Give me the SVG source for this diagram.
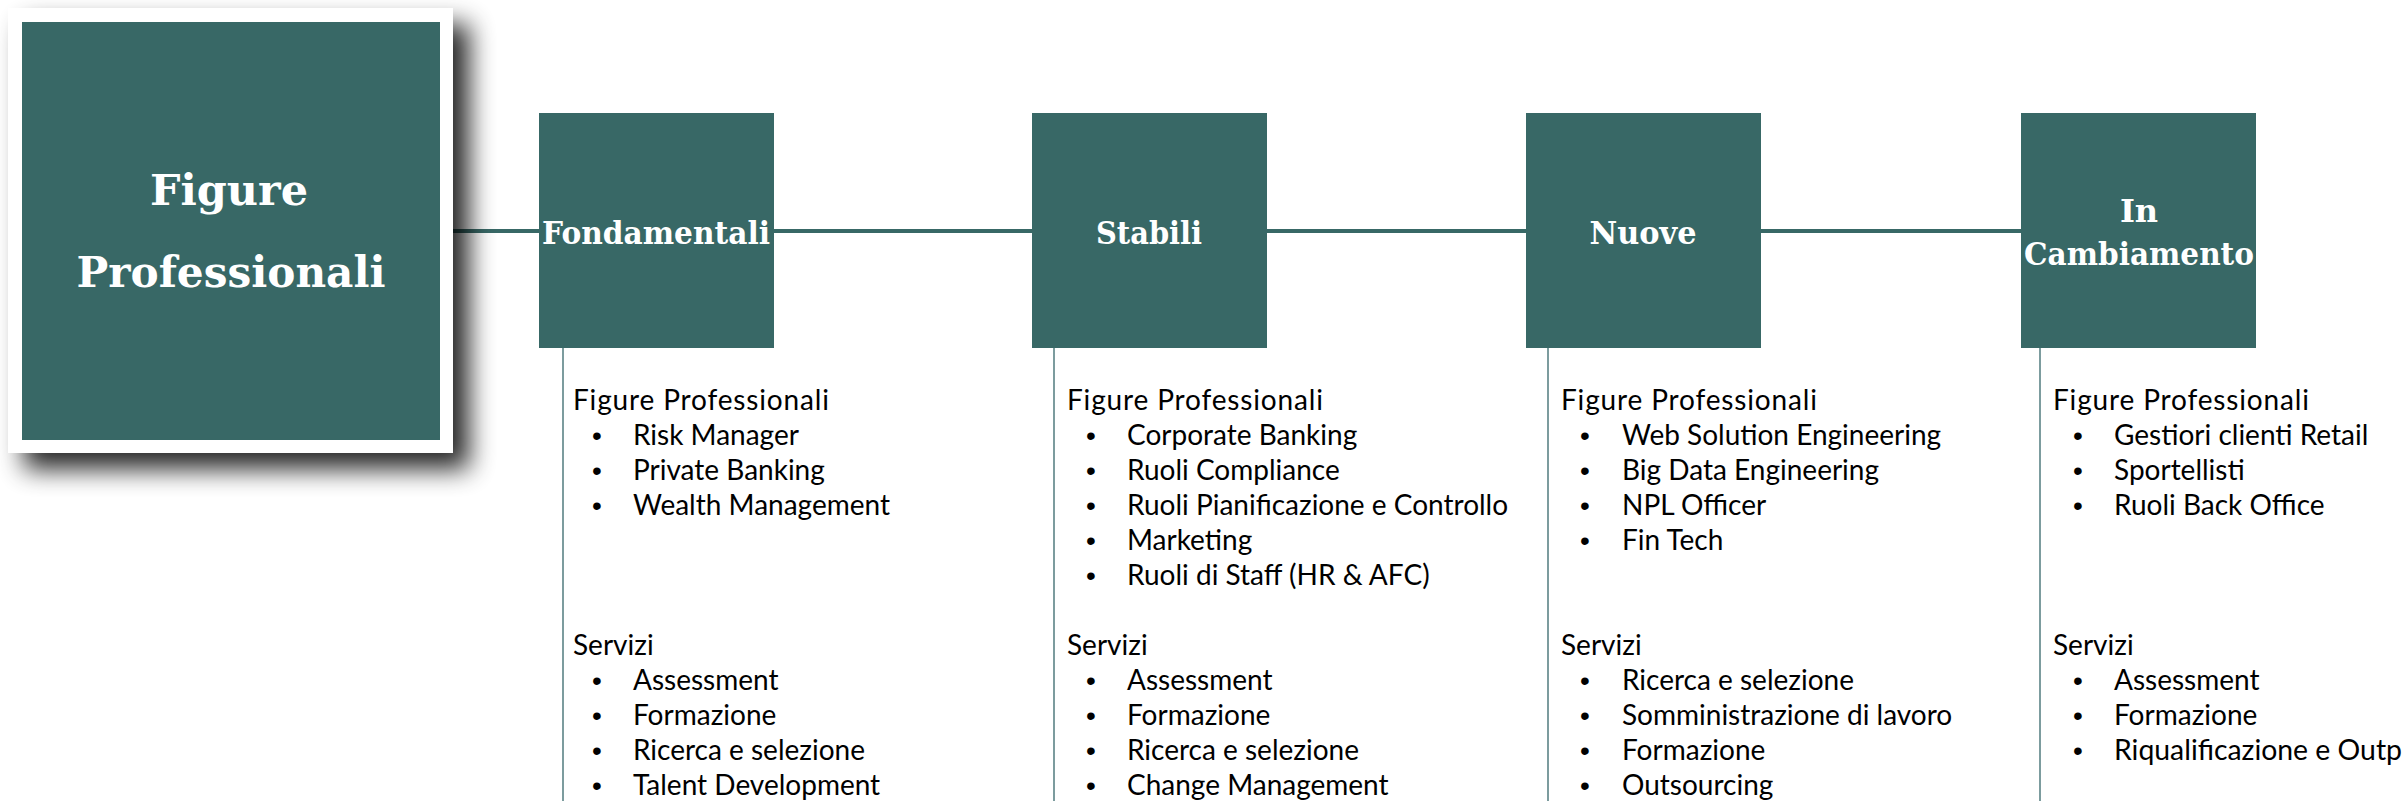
<svg xmlns="http://www.w3.org/2000/svg" width="2402" height="801" viewBox="0 0 2402 801">
<style>
.box{fill:#386866}
.lbl{font-family:"DejaVu Serif","Liberation Serif",serif;font-weight:bold;fill:#ffffff;text-anchor:middle}
.conn{stroke:#386866;stroke-width:4;fill:none}
.vline{stroke:#7c9c9e;stroke-width:2;fill:none}
.hd{font-family:Lato,"Open Sans",sans-serif;font-size:28px;fill:#000}
.it{font-family:Lato,"Open Sans",sans-serif;font-size:28px;fill:#000}
.bl{font-family:"Liberation Sans",sans-serif;font-size:28px;fill:#000;text-anchor:middle}
</style>
<defs>
<filter id="shadow" x="-20%" y="-20%" width="140%" height="140%">
<feGaussianBlur in="SourceAlpha" stdDeviation="13"/>
<feOffset dx="16" dy="16" result="b"/>
<feComponentTransfer><feFuncA type="linear" slope="0.85"/></feComponentTransfer>
<feMerge><feMergeNode/><feMergeNode in="SourceGraphic"/></feMerge>
</filter>
</defs>
<rect width="2402" height="801" fill="#ffffff"/>
<g id="connectors">
<line class="conn" x1="453" y1="231" x2="539" y2="231"/>
<line class="conn" x1="774" y1="231" x2="1032" y2="231"/>
<line class="conn" x1="1267" y1="231" x2="1526" y2="231"/>
<line class="conn" x1="1761" y1="231" x2="2021" y2="231"/>
<line class="vline" x1="563" y1="348" x2="563" y2="801"/>
<line class="vline" x1="1054" y1="348" x2="1054" y2="801"/>
<line class="vline" x1="1548" y1="348" x2="1548" y2="801"/>
<line class="vline" x1="2040" y1="348" x2="2040" y2="801"/>
</g>
<g id="node-root">
<rect x="8" y="8" width="445" height="445" fill="#ffffff" filter="url(#shadow)"/>
<rect class="box" x="22" y="22" width="418" height="418"/>
<text class="lbl" x="229" y="205" font-size="42" textLength="158" lengthAdjust="spacingAndGlyphs">Figure</text>
<text class="lbl" x="231" y="287" font-size="42" textLength="309" lengthAdjust="spacingAndGlyphs">Professionali</text>
</g>
<g id="node-fondamentali">
<rect class="box" x="539" y="113" width="235" height="235"/>
<text class="lbl" x="656" y="244" font-size="32" textLength="228" lengthAdjust="spacingAndGlyphs">Fondamentali</text>
</g>
<g id="node-stabili">
<rect class="box" x="1032" y="113" width="235" height="235"/>
<text class="lbl" x="1149" y="244" font-size="32" textLength="106" lengthAdjust="spacingAndGlyphs">Stabili</text>
</g>
<g id="node-nuove">
<rect class="box" x="1526" y="113" width="235" height="235"/>
<text class="lbl" x="1643" y="244" font-size="32" textLength="107" lengthAdjust="spacingAndGlyphs">Nuove</text>
</g>
<g id="node-cambiamento">
<rect class="box" x="2021" y="113" width="235" height="235"/>
<text class="lbl" x="2139" y="222" font-size="32">In</text>
<text class="lbl" x="2139" y="265" font-size="32" textLength="230" lengthAdjust="spacingAndGlyphs">Cambiamento</text>
</g>
<g id="list-fondamentali">
<text class="hd" x="573" y="410" textLength="256">Figure Professionali</text>
<text class="bl" x="597" y="445">•</text><text class="it" x="633" y="445">Risk Manager</text>
<text class="bl" x="597" y="480">•</text><text class="it" x="633" y="480">Private Banking</text>
<text class="bl" x="597" y="515">•</text><text class="it" x="633" y="515">Wealth Management</text>
<text class="hd" x="573" y="655">Servizi</text>
<text class="bl" x="597" y="690">•</text><text class="it" x="633" y="690">Assessment</text>
<text class="bl" x="597" y="725">•</text><text class="it" x="633" y="725">Formazione</text>
<text class="bl" x="597" y="760">•</text><text class="it" x="633" y="760">Ricerca e selezione</text>
<text class="bl" x="597" y="795">•</text><text class="it" x="633" y="795">Talent Development</text>
</g>
<g id="list-stabili">
<text class="hd" x="1067" y="410" textLength="256">Figure Professionali</text>
<text class="bl" x="1091" y="445">•</text><text class="it" x="1127" y="445">Corporate Banking</text>
<text class="bl" x="1091" y="480">•</text><text class="it" x="1127" y="480">Ruoli Compliance</text>
<text class="bl" x="1091" y="515">•</text><text class="it" x="1127" y="515">Ruoli Pianificazione e Controllo</text>
<text class="bl" x="1091" y="550">•</text><text class="it" x="1127" y="550">Marketing</text>
<text class="bl" x="1091" y="585">•</text><text class="it" x="1127" y="585">Ruoli di Staff (HR &amp; AFC)</text>
<text class="hd" x="1067" y="655">Servizi</text>
<text class="bl" x="1091" y="690">•</text><text class="it" x="1127" y="690">Assessment</text>
<text class="bl" x="1091" y="725">•</text><text class="it" x="1127" y="725">Formazione</text>
<text class="bl" x="1091" y="760">•</text><text class="it" x="1127" y="760">Ricerca e selezione</text>
<text class="bl" x="1091" y="795">•</text><text class="it" x="1127" y="795">Change Management</text>
</g>
<g id="list-nuove">
<text class="hd" x="1561" y="410" textLength="256">Figure Professionali</text>
<text class="bl" x="1585" y="445">•</text><text class="it" x="1622" y="445">Web Solution Engineering</text>
<text class="bl" x="1585" y="480">•</text><text class="it" x="1622" y="480">Big Data Engineering</text>
<text class="bl" x="1585" y="515">•</text><text class="it" x="1622" y="515">NPL Officer</text>
<text class="bl" x="1585" y="550">•</text><text class="it" x="1622" y="550">Fin Tech</text>
<text class="hd" x="1561" y="655">Servizi</text>
<text class="bl" x="1585" y="690">•</text><text class="it" x="1622" y="690">Ricerca e selezione</text>
<text class="bl" x="1585" y="725">•</text><text class="it" x="1622" y="725">Somministrazione di lavoro</text>
<text class="bl" x="1585" y="760">•</text><text class="it" x="1622" y="760">Formazione</text>
<text class="bl" x="1585" y="795">•</text><text class="it" x="1622" y="795">Outsourcing</text>
</g>
<g id="list-cambiamento">
<text class="hd" x="2053" y="410" textLength="256">Figure Professionali</text>
<text class="bl" x="2078" y="445">•</text><text class="it" x="2114" y="445">Gestiori clienti Retail</text>
<text class="bl" x="2078" y="480">•</text><text class="it" x="2114" y="480">Sportellisti</text>
<text class="bl" x="2078" y="515">•</text><text class="it" x="2114" y="515">Ruoli Back Office</text>
<text class="hd" x="2053" y="655">Servizi</text>
<text class="bl" x="2078" y="690">•</text><text class="it" x="2114" y="690">Assessment</text>
<text class="bl" x="2078" y="725">•</text><text class="it" x="2114" y="725">Formazione</text>
<text class="bl" x="2078" y="760">•</text><text class="it" x="2114" y="760" textLength="288" lengthAdjust="spacingAndGlyphs">Riqualificazione e Outp</text>
</g>
</svg>
